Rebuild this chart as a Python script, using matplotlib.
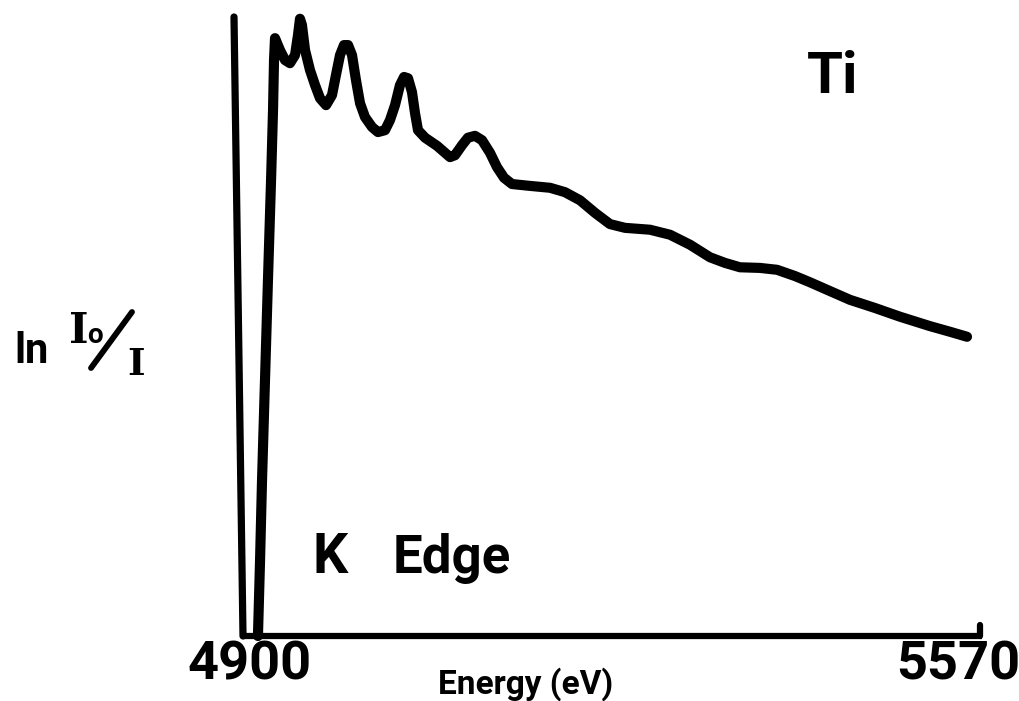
import matplotlib
matplotlib.use("Agg")
import matplotlib.pyplot as plt
from matplotlib.lines import Line2D

# Ti K-edge absorption spectrum, ln(I0/I) in arbitrary units
energy_ev = [
    4913.6, 4915.5, 4917.3, 4920.0, 4922.7, 4925.5, 4927.3, 4928.2, 4929.1,
    4933.6, 4938.2, 4942.7, 4947.3, 4950.0, 4951.8, 4953.6, 4956.4, 4960.9,
    4965.5, 4970.0, 4975.5, 4980.9, 4984.5, 4988.2, 4991.8, 4995.5, 4999.1,
    5002.7, 5006.4, 5010.9, 5017.3, 5022.7, 5029.1, 5033.6, 5038.2, 5042.7,
    5046.4, 5050.0, 5053.6, 5056.4, 5059.1, 5065.5, 5076.4, 5083.6, 5088.2,
    5092.7, 5099.1, 5104.5, 5110.9, 5117.3, 5124.5, 5130.9, 5137.3, 5144.5,
    5160.9, 5179.1, 5192.7, 5206.4, 5220.0, 5233.6, 5247.3, 5270.0, 5288.2,
    5306.4, 5324.5, 5338.2, 5351.8, 5370.0, 5385.5, 5401.8, 5415.5, 5433.6,
    5451.8, 5474.5, 5497.3, 5524.5, 5542.7, 5558.2,
]
absorbance = [
    0.000, 0.121, 0.249, 0.409, 0.569, 0.728, 0.840, 0.920, 0.955,
    0.936, 0.920, 0.915, 0.928, 0.960, 0.986, 0.976, 0.936, 0.904,
    0.880, 0.859, 0.848, 0.864, 0.896, 0.928, 0.944, 0.944, 0.928,
    0.888, 0.851, 0.829, 0.813, 0.805, 0.808, 0.824, 0.848, 0.880,
    0.893, 0.891, 0.869, 0.835, 0.808, 0.796, 0.783, 0.772, 0.765,
    0.768, 0.784, 0.796, 0.799, 0.792, 0.772, 0.749, 0.732, 0.722,
    0.719, 0.716, 0.709, 0.696, 0.676, 0.658, 0.652, 0.649, 0.641,
    0.625, 0.605, 0.596, 0.589, 0.588, 0.585, 0.575, 0.565, 0.551,
    0.537, 0.524, 0.510, 0.495, 0.486, 0.478,
]
x_ticks = [4900, 5570]
x_tick_labels = ["4900", "5570"]
x_label = "Energy (eV)"
element = "Ti"
edge_label = ("K", "Edge")

W, H = 1020, 701
fig = plt.figure(figsize=(W / 100, H / 100), dpi=100)
fig.patch.set_facecolor("white")

ax = fig.add_axes([243 / W, 65 / H, 737 / W, 626 / H])
ax.set_xlim(x_ticks[0], x_ticks[1])
ax.set_ylim(0, 1.0)
for s in ax.spines.values():
    s.set_visible(False)
ax.set_xticks([])
ax.set_yticks([])
ax.patch.set_alpha(0)

ink = "black"
font = "Roboto"

# spectrum
ax.plot(energy_ev, absorbance, color=ink, lw=7.3,
        solid_capstyle="round", solid_joinstyle="round", clip_on=False)

# hand-drawn frame: slanted ordinate, abscissa, end mark
ax.add_line(Line2D([-9 / 737, 0], [(636 - 17) / 626, 0], transform=ax.transAxes,
                   color=ink, lw=5.2, solid_capstyle="round", clip_on=False))
ax.add_line(Line2D([0, 739 / 737], [0, 0], transform=ax.transAxes,
                   color=ink, lw=4.5, solid_capstyle="butt", clip_on=False))
ax.add_line(Line2D([737 / 737, 737 / 737], [0, 11 / 626], transform=ax.transAxes,
                   color=ink, lw=4.5, solid_capstyle="round", clip_on=False))

# tick labels under the abscissa
offsets = [7, -22]
for t, lab, dx in zip(x_ticks, x_tick_labels, offsets):
    ax.annotate(lab, xy=(t, 0), xycoords=("data", "axes fraction"),
                xytext=(dx, -4), textcoords="offset pixels",
                ha="center", va="top", fontsize=39, family=font,
                fontweight="bold", color=ink)

fig.text(526 / W, 1 - 694 / H, x_label, ha="center", va="baseline",
         fontsize=24, family=font, fontweight="bold", color=ink)

fig.text(833 / W, 1 - 93 / H, element, ha="center", va="baseline",
         fontsize=42, family=font, fontweight="bold", color=ink)

fig.text(313 / W, 1 - 573 / H, edge_label[0], ha="left", va="baseline",
         fontsize=40, family=font, fontweight="bold", color=ink)
fig.text(393 / W, 1 - 573 / H, edge_label[1], ha="left", va="baseline",
         fontsize=38, family=font, fontweight="bold", color=ink)

# ordinate label: ln I0/I
fig.text(14 / W, 1 - 363 / H, "ln", ha="left", va="baseline",
         fontsize=30, family=font, fontweight="bold", color=ink)
fig.text(69 / W, 1 - 343 / H, "I", ha="left", va="baseline",
         fontsize=30, family="DejaVu Serif", fontweight="bold", color=ink)
fig.text(87 / W, 1 - 343 / H, "o", ha="left", va="baseline",
         fontsize=20, family=font, fontweight="bold", color=ink)
fig.add_artist(Line2D([91 / W, 132 / W], [1 - 368 / H, 1 - 312 / H],
                      transform=fig.transFigure, color=ink, lw=4.2,
                      solid_capstyle="round"))
fig.text(127 / W, 1 - 375 / H, "I", ha="left", va="baseline",
         fontsize=27, family="DejaVu Serif", fontweight="bold", color=ink)

fig.savefig("out.png", dpi=100, facecolor="white")
